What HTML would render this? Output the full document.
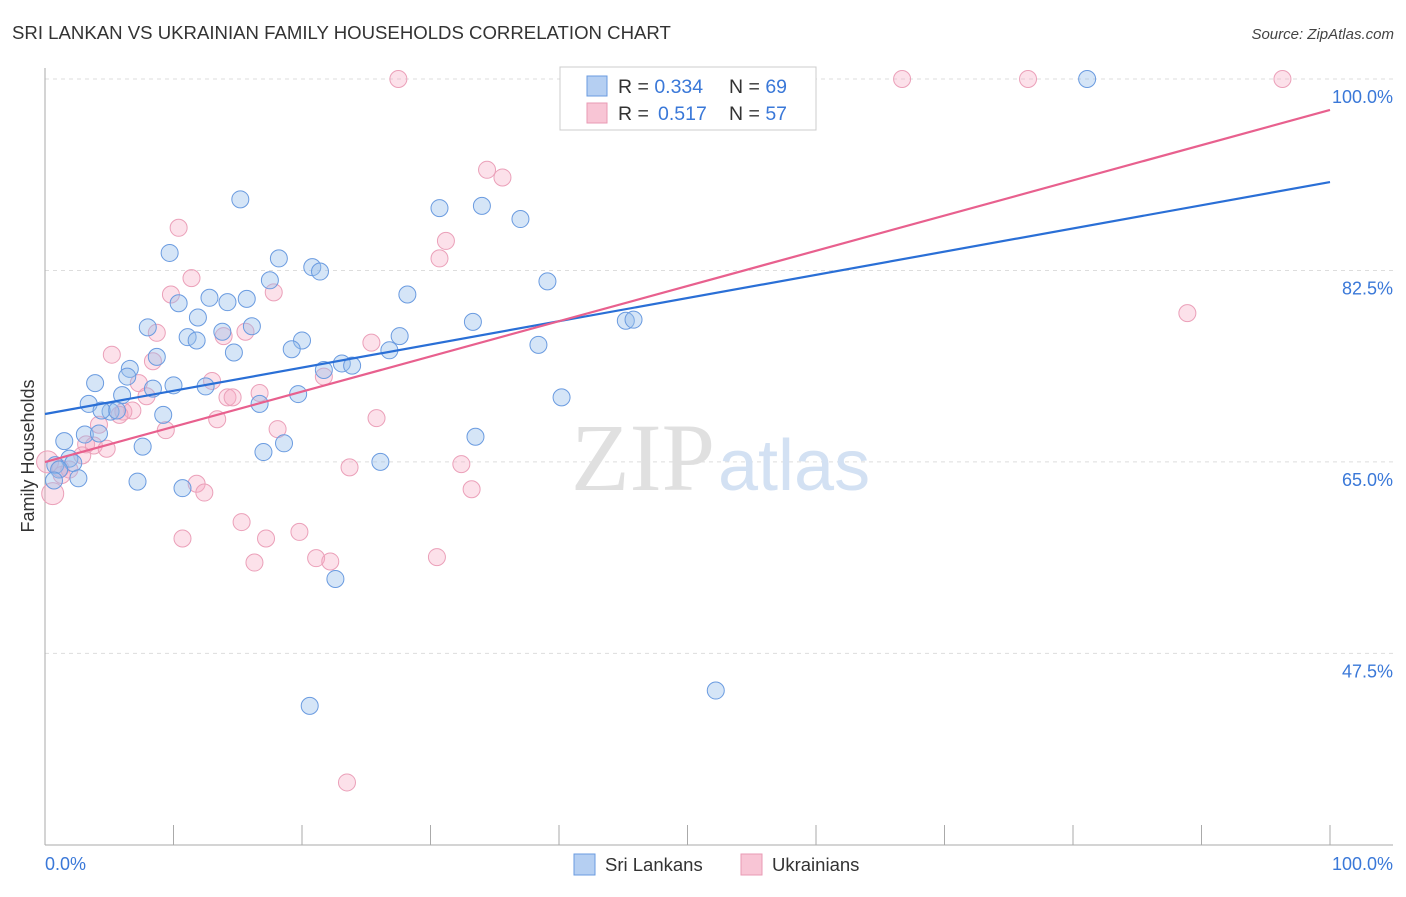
<!DOCTYPE html>
<html><head><meta charset="utf-8"><style>
body{margin:0;background:#fff;font-family:"Liberation Sans",sans-serif}
svg text{font-family:"Liberation Sans",sans-serif}
</style></head><body>
<svg width="1406" height="892" viewBox="0 0 1406 892">
<text x="12" y="39" font-size="18.6" fill="#333">SRI LANKAN VS UKRAINIAN FAMILY HOUSEHOLDS CORRELATION CHART</text>
<text x="1394" y="39" font-size="15" fill="#444" font-style="italic" text-anchor="end">Source: ZipAtlas.com</text>
<g id="grid"></g>
<text x="715" y="490" font-size="96" fill="#e0e0e0" text-anchor="end" style="font-family:'Liberation Serif',serif">ZIP</text>
<text x="718" y="490" font-size="72" fill="#d3e1f3">atlas</text>
<line x1="45" y1="68" x2="45" y2="845" stroke="#aaa"/>
<line x1="45" y1="845" x2="1393" y2="845" stroke="#aaa"/>
<g id="pts"></g>
<g id="lines"></g>
<text x="34" y="456" font-size="18" fill="#333" text-anchor="middle" transform="rotate(-90 34 456)">Family Households</text>
<text x="45" y="870" font-size="18" fill="#3a78d8">0.0%</text>
<text x="1393" y="870" font-size="18" fill="#3a78d8" text-anchor="end">100.0%</text>
<g>
<rect x="560" y="67" width="256" height="63" fill="#fff" stroke="#ccc"/>
<rect x="587" y="76" width="20" height="20" fill="#b5cff2" stroke="#6a9be0"/>
<rect x="587" y="103" width="20" height="20" fill="#f8c5d5" stroke="#e99ab4"/>
<text x="618" y="93" font-size="19.5" fill="#333">R = <tspan fill="#3a78d8">0.334</tspan><tspan x="729">N = </tspan><tspan fill="#3a78d8">69</tspan></text>
<text x="618" y="120" font-size="19.5" fill="#333">R = <tspan fill="#3a78d8" x="658">0.517</tspan><tspan x="729">N = </tspan><tspan fill="#3a78d8">57</tspan></text>
</g>
<g>
<rect x="574" y="854" width="21" height="21" fill="#b5cff2" stroke="#6a9be0"/>
<text x="605" y="871" font-size="18.5" fill="#333">Sri Lankans</text>
<rect x="741" y="854" width="21" height="21" fill="#f8c5d5" stroke="#e99ab4"/>
<text x="772" y="871" font-size="18.5" fill="#333">Ukrainians</text>
</g>
</svg>
<script>
const yTicks=[100,82.5,65,47.5];
const blueX=[15.2,9.7,18.2,20.8,21.4,17.5,39.1,28.2,10.4,12.8,14.2,15.7,11.9,8.0,16.1,13.8,11.1,11.8,20.0,19.2,14.7,8.7,26.8,27.6,23.1,23.9,21.7,6.6,6.4,3.9,8.4,10.0,12.5,19.7,6.0,3.4,9.2,5.1,5.6,16.7,40.2,38.4,33.3,45.2,45.8,30.7,34.0,37.0,81.1,1.5,3.1,4.2,7.6,17.0,18.6,33.5,26.1,1.9,2.2,0.8,1.1,2.6,7.2,10.7,0.7,22.6,20.6,52.2,4.4];
const blueY=[89.0,84.1,83.6,82.8,82.4,81.6,81.5,80.3,79.5,80.0,79.6,79.9,78.2,77.3,77.4,76.9,76.4,76.1,76.1,75.3,75.0,74.6,75.2,76.5,74.0,73.8,73.4,73.5,72.8,72.2,71.7,72.0,71.9,71.2,71.1,70.3,69.3,69.6,69.7,70.3,70.9,75.7,77.8,77.9,78.0,88.2,88.4,87.2,100,66.9,67.5,67.6,66.4,65.9,66.7,67.3,65.0,65.3,64.9,64.7,64.3,63.5,63.2,62.6,63.3,54.3,42.7,44.1,69.7];
const pinkX=[27.5,66.7,76.5,96.3,34.4,35.6,10.4,31.2,30.7,11.4,9.8,17.8,88.9,15.6,8.7,13.9,5.2,25.4,8.4,21.7,7.3,13.0,16.7,7.9,14.2,14.6,6.8,6.1,5.8,13.4,25.8,9.4,18.1,4.2,3.2,3.8,4.8,32.4,23.7,11.8,12.4,33.2,0.6,0.2,1.2,15.3,10.7,17.2,19.8,30.5,16.3,21.1,22.2,23.5,1.3,2.9,1.9];
const pinkY=[100,100,100,100,91.7,91.0,86.4,85.2,83.6,81.8,80.3,80.5,78.6,76.9,76.8,76.5,74.8,75.9,74.2,72.8,72.2,72.4,71.3,71.0,70.9,70.9,69.7,69.6,69.3,68.9,69.0,67.9,68.0,68.4,66.6,66.5,66.2,64.8,64.5,63.0,62.2,62.5,62.1,65.0,64.4,59.5,58.0,58.0,58.6,56.3,55.8,56.2,55.9,35.7,63.8,65.6,64.3];
const blueLine=[69.38,90.58];
const pinkLine=[64.99,97.17];
const sx=v=>45+v*12.85, sy=v=>79+(100-v)*10.94;
const NS="http://www.w3.org/2000/svg";
function mk(t,a){const e=document.createElementNS(NS,t);for(const k in a)e.setAttribute(k,a[k]);return e;}
const grid=document.getElementById('grid');
yTicks.forEach(v=>{
 const l=mk('line',{x1:45,x2:1393,y1:sy(v),y2:sy(v),stroke:'#ddd','stroke-dasharray':'4,4'});
 
 
 grid.appendChild(l);
 const t=mk('text',{x:1393,y:sy(v)+24,'font-size':18,fill:'#3a78d8','text-anchor':'end'});
 t.textContent=v.toFixed(1)+'%';
 
 
 grid.appendChild(t);
});
for(let i=1;i<=10;i++){
 const l=mk('line',{x1:sx(i*10),x2:sx(i*10),y1:825,y2:845,stroke:'#aaa'});
 
 
 grid.appendChild(l);
}
const pts=document.getElementById('pts');
pinkX.forEach((x,i)=>{
 const c=mk('circle',{cx:sx(x),cy:sy(pinkY[i]),r:(x<1?11:8.5),fill:'rgba(245,170,195,0.35)',stroke:'#eba0b9','stroke-width':1});
 
 
 pts.appendChild(c);
});
blueX.forEach((x,i)=>{
 const c=mk('circle',{cx:sx(x),cy:sy(blueY[i]),r:8.5,fill:'rgba(150,190,235,0.4)',stroke:'#6a9be0','stroke-width':1});
 
 
 pts.appendChild(c);
});
const lines=document.getElementById('lines');
const bl=mk('line',{x1:sx(0),y1:sy(blueLine[0]),x2:sx(100),y2:sy(blueLine[1]),stroke:'#2a6fd6','stroke-width':2.2});


lines.appendChild(bl);
const pl=mk('line',{x1:sx(0),y1:sy(pinkLine[0]),x2:sx(100),y2:sy(pinkLine[1]),stroke:'#e8608e','stroke-width':2.2});


lines.appendChild(pl);
</script>
</body></html>
